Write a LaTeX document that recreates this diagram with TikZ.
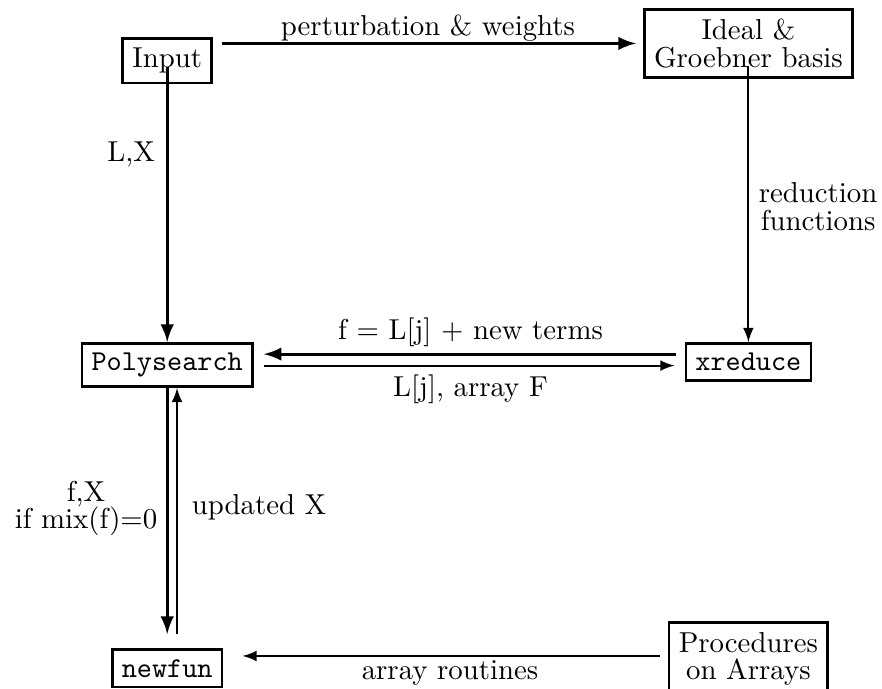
\documentclass[tikz,border=0pt]{standalone}
\usepackage{tikz}
\usetikzlibrary{calc}
\begin{document}
\begin{tikzpicture}[>=latex,
  box/.style={draw,line width=0.9pt},
  heavy/.style={line width=1.1pt},
  light/.style={line width=0.7pt}]
  \useasboundingbox (0,0) rectangle (10.76,8.40);
  % boxes
  \node[box] (input) at (2.04,7.66) {Input};
  \node[box,align=center] (ideal) at (9.13,7.87) {Ideal \&\\[-2.5pt]Groebner basis};
  \node[box,anchor=base,font=\ttfamily] (poly) at (2.04,3.88) {Polysearch};
  \node[box,anchor=base,font=\ttfamily] (xred) at (9.13,3.88) {xreduce};
  \node[box,anchor=base,font=\ttfamily] (newfun) at (2.04,0.14) {newfun};
  \node[box,anchor=north,align=center] (procs) at (9.13,0.82) {Procedures\\[-2.5pt]on Arrays};
  % labels
  \node (pw) at (5.22,8.06) {perturbation \& weights};
  \node (lx) at (1.60,6.51) {L,X};
  \node[align=center] (rf) at (9.98,5.88) {reduction\\[-2.5pt]functions};
  \node[anchor=base] (fnew) at (5.74,4.26) {f = L[j] + new terms};
  \node[anchor=base] (lja) at (5.74,3.56) {L[j], array F};
  \node[align=center] (fx) at (1.05,2.20) {f,X\\[-2.5pt]if mix(f)=0};
  \node (upd) at (3.16,2.21) {updated X};
  \node (ar) at (5.49,0.19) {array routines};
  % arrows
  \draw[->,heavy,shorten <=3pt,shorten >=2.5pt] (input.east |- ideal.west) -- (ideal.west);
  \draw[->,heavy] ([yshift=-0.08cm]input.center) -- (poly.north);
  \draw[->,light] ([yshift=-0.28cm]ideal.center) -- (xred.north);
  \draw[->,heavy,shorten <=3pt,shorten >=3.5pt] ([yshift=0.2cm]xred.base west) -- ([yshift=0.2cm]poly.base east);
  \draw[->,light,shorten <=3.5pt,shorten >=3.5pt] ([yshift=0.06cm]poly.base east) -- ([yshift=0.06cm]xred.base west);
  \draw[->,heavy,shorten >=5pt] (poly.south) -- (poly.south |- newfun.north);
  \draw[->,light,shorten <=5pt] ($(poly.south |- newfun.north)+(0.12,0)$) -- ($(poly.south)+(0.12,0)$);
  \draw[->,light,shorten <=2.8pt,shorten >=6.6pt] ($(procs.west |- newfun.east)+(0,0.15)$) -- ($(newfun.east)+(0,0.15)$);
\end{tikzpicture}
\end{document}
